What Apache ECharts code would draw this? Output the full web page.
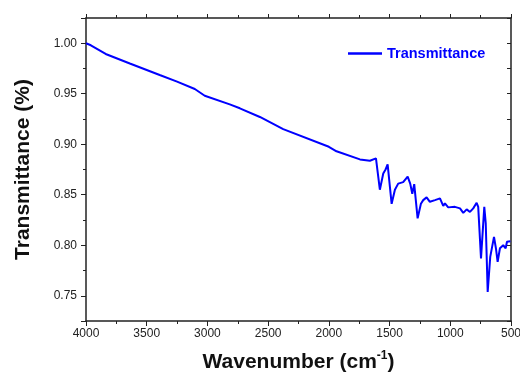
<!DOCTYPE html>
<html>
<head>
<meta charset="utf-8">
<script src="https://cdn.jsdelivr.net/npm/echarts@6/dist/echarts.min.js"></script>
<style>
html, body { margin: 0; padding: 0; background: #ffffff; }
#main { width: 520px; height: 374px; }
</style>
</head>
<body>
<div id="main"></div>
<script>
// FTIR spectrum
var wavenumber = [4000, 3960, 3838, 3639, 3393, 3250, 3104, 3022, 2816, 2733, 2568, 2376, 2000, 1937, 1744, 1662, 1612, 1600, 1580, 1552, 1533, 1516, 1483, 1456, 1429, 1388, 1351, 1330, 1313, 1297, 1269, 1242, 1223, 1195, 1168, 1126, 1085, 1058, 1044, 1017, 962, 920, 893, 865, 838, 811, 783, 770, 747, 720, 708, 692, 671, 640, 624, 610, 591, 564, 544, 533, 517, 505, 500];
var transmittance = [1.000, 0.998, 0.9894, 0.980, 0.9686, 0.962, 0.9547, 0.948, 0.9395, 0.9356, 0.927, 0.915, 0.8975, 0.893, 0.885, 0.8837, 0.886, 0.887, 0.855, 0.871, 0.875, 0.880, 0.841, 0.855, 0.861, 0.8625, 0.868, 0.861, 0.851, 0.8605, 0.8266, 0.841, 0.8447, 0.8474, 0.843, 0.8447, 0.8464, 0.839, 0.8414, 0.8375, 0.838, 0.8365, 0.832, 0.8355, 0.833, 0.8365, 0.842, 0.838, 0.787, 0.838, 0.8216, 0.7538, 0.7885, 0.8083, 0.7968, 0.7836, 0.797, 0.800, 0.797, 0.8034, 0.805, 0.804, 0.804];

var points = [];
for (var i = 0; i < wavenumber.length; i++) {
	points.push([wavenumber[i], transmittance[i]]);
}

var axisColor = '#222';
var myChart = echarts.init(document.getElementById('main'));
var option = {
	backgroundColor : '#ffffff',
	animation : false,
	grid : {
		left : 86,
		right : 9,
		top : 18,
		bottom : 53,
		containLabel : false,
		outerBoundsMode : 'none'
	},
	legend : {
		left : 343,
		top : 41,
		itemWidth : 34,
		itemHeight : 2.5,
		icon : 'rect',
		itemStyle : { color : '#0000ff' },
		textStyle : {
			color : '#0000ff',
			fontWeight : 'bold',
			fontSize : 14.5,
			fontFamily : 'Liberation Sans, Arial'
		},
		data : [ 'Transmittance' ]
	},
	xAxis : [ {
		type : 'value',
		position : 'bottom',
		inverse : true,
		min : 500,
		max : 4000,
		interval : 500,
		name : 'Wavenumber (cm{sup|-1})',
		nameLocation : 'middle',
		nameGap : 29,
		nameTextStyle : {
			color : '#111',
			fontSize : 21,
			fontWeight : 'bold',
			fontFamily : 'Liberation Sans, Arial',
			rich : {
				sup : {
					fontSize : 12,
					fontWeight : 'bold',
					fontFamily : 'Liberation Sans, Arial',
					color : '#111',
					padding : [ 0, 0, 12, 0 ]
				}
			}
		},
		axisLine : { lineStyle : { color : axisColor, width : 1.5 } },
		axisTick : { inside : false, length : 5, lineStyle : { color : axisColor } },
		minorTick : { show : true, splitNumber : 2, length : 3, lineStyle : { color : axisColor } },
		axisLabel : {
			margin : 7,
			color : '#222',
			fontSize : 12,
			fontFamily : 'Liberation Sans, Arial',
			formatter : function(v) {
				return String(v);
			}
		},
		splitLine : { show : false }
	}, {
		type : 'value',
		position : 'top',
		inverse : true,
		min : 500,
		max : 4000,
		interval : 500,
		axisLine : { lineStyle : { color : axisColor, width : 1.5 } },
		axisTick : { inside : false, length : 4, lineStyle : { color : axisColor } },
		minorTick : { show : true, splitNumber : 2, length : 3, lineStyle : { color : axisColor } },
		axisLabel : { show : false },
		splitLine : { show : false }
	} ],
	yAxis : [ {
		type : 'value',
		position : 'left',
		min : 0.725,
		max : 1.025,
		splitNumber : 6,
		name : 'Transmittance (%)',
		nameLocation : 'middle',
		nameGap : 52,
		nameTextStyle : {
			color : '#111',
			fontSize : 21,
			fontWeight : 'bold',
			fontFamily : 'Liberation Sans, Arial'
		},
		axisLine : { show : true, lineStyle : { color : axisColor, width : 1.5 } },
		axisTick : { show : true, inside : false, length : 5, lineStyle : { color : axisColor } },
		minorTick : { show : true, splitNumber : 2, length : 3, lineStyle : { color : axisColor } },
		axisLabel : {
			margin : 9,
			color : '#222',
			fontSize : 12,
			fontFamily : 'Liberation Sans, Arial',
			showMinLabel : false,
			showMaxLabel : false,
			formatter : function(v) {
				return v.toFixed(2);
			}
		},
		splitLine : { show : false }
	}, {
		type : 'value',
		position : 'right',
		min : 0.725,
		max : 1.025,
		splitNumber : 6,
		axisLine : { show : true, lineStyle : { color : axisColor, width : 1.5 } },
		axisTick : { show : true, inside : true, length : 4, lineStyle : { color : axisColor } },
		minorTick : { show : true, splitNumber : 2, length : 4, lineStyle : { color : axisColor } },
		axisLabel : { show : false },
		splitLine : { show : false }
	} ],
	series : [ {
		name : 'Transmittance',
		type : 'line',
		xAxisIndex : 0,
		yAxisIndex : 0,
		symbol : 'none',
		lineStyle : {
			color : '#0000ff',
			width : 2
		},
		itemStyle : {
			color : '#0000ff'
		},
		data : points
	} ]
};
myChart.setOption(option);
</script>
</body>
</html>
